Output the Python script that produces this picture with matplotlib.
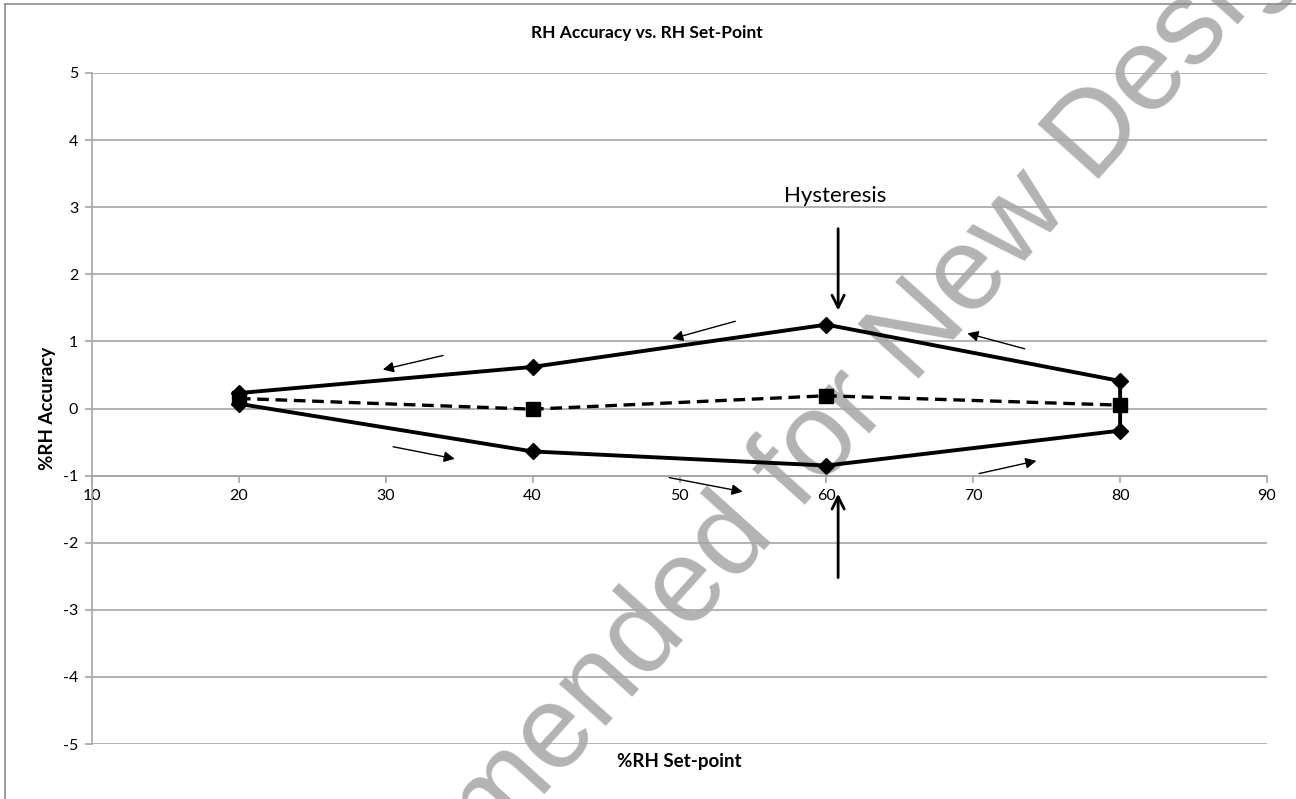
import matplotlib
matplotlib.use('Agg')
from matplotlib import pyplot as plt
from matplotlib.lines import Line2D

# values
setpoints = [20, 40, 60, 80]
rh_rising = [0.07, -0.64, -0.85, -0.33]   # going up in RH (lower branch)
rh_falling = [0.23, 0.62, 1.25, 0.41]     # coming down in RH (upper branch)
rh_mean = [0.15, -0.01, 0.19, 0.05]

y_ticks = [-5, -4, -3, -2, -1, 0, 1, 2, 3, 4, 5]
x_ticks = [10, 20, 30, 40, 50, 60, 70, 80, 90]

# small direction arrows: (x_from, y_from, x_to, y_to)
flow_arrows = [
    (33.9, 0.79, 29.8, 0.58),
    (53.8, 1.30, 49.5, 1.04),
    (73.5, 0.89, 69.6, 1.12),
    (30.5, -0.57, 34.7, -0.75),
    (49.3, -1.03, 54.3, -1.24),
    (70.4, -0.97, 74.3, -0.78),
]
hyst_x = 60.8
hyst_top = (2.68, 1.46)
hyst_bottom = (-2.52, -1.27)

plt.rcParams['font.family'] = ['Lato', 'DejaVu Sans']
plt.rcParams['axes.unicode_minus'] = False
grid_col = '#a6a6a6'

fig = plt.figure(figsize=(12.96, 7.99), dpi=100)
ax = fig.add_axes([92 / 1296, 1 - 744 / 799, (1267 - 92) / 1296, (744 - 73) / 799])
ax.patch.set_alpha(0)

# watermark, sits under everything in the axes
fig.text(715 / 1296, 1 - 560 / 799, 'Not Recommended for New Designs',
         fontsize=85, color='#b3b3b3', rotation=48, rotation_mode='anchor',
         ha='center', va='center', family='Liberation Sans', zorder=-5)

# outer frame (only left and top edges are visible in the crop)
fig.add_artist(Line2D([4.5 / 1296, 4.5 / 1296], [0, 1 - 3.5 / 799],
                      transform=fig.transFigure, color='#8c8c8c', lw=1.2))
fig.add_artist(Line2D([4.5 / 1296, 1], [1 - 3.5 / 799, 1 - 3.5 / 799],
                      transform=fig.transFigure, color='#8c8c8c', lw=1.2))

ax.set_xlim(10, 90)
ax.set_ylim(-5, 5)
ax.set_xticks(x_ticks)
ax.set_yticks(y_ticks)
ax.yaxis.grid(True, color=grid_col, lw=1.2)
ax.set_axisbelow(True)

for s in ['top', 'right']:
    ax.spines[s].set_visible(False)
ax.spines['bottom'].set_position(('data', -1))
ax.spines['bottom'].set_color(grid_col)
ax.spines['left'].set_color(grid_col)
ax.spines['bottom'].set_linewidth(1.2)
ax.spines['left'].set_linewidth(1.2)
ax.tick_params(axis='both', color=grid_col, length=5, width=1.2, labelsize=11.5, pad=5)

loop_x = setpoints + setpoints[::-1]
loop_y = rh_rising + rh_falling[::-1]
ax.plot(loop_x, loop_y, color='black', lw=2.8, marker='D', markersize=8.5, zorder=3)
ax.plot(setpoints, rh_mean, color='black', lw=2.4, ls=(0, (3.5, 2)), marker='s',
        markersize=10, zorder=3)

for x0, y0, x1, y1 in flow_arrows:
    ax.annotate('', xy=(x1, y1), xytext=(x0, y0),
                arrowprops=dict(arrowstyle='-|>', color='black', lw=1.0,
                                mutation_scale=16, shrinkA=0, shrinkB=0))

ax.annotate('', xy=(hyst_x, hyst_top[1]), xytext=(hyst_x, hyst_top[0]),
            arrowprops=dict(arrowstyle='->', color='black', lw=2.0,
                            mutation_scale=22, shrinkA=0, shrinkB=0))
ax.annotate('', xy=(hyst_x, hyst_bottom[1]), xytext=(hyst_x, hyst_bottom[0]),
            arrowprops=dict(arrowstyle='->', color='black', lw=2.0,
                            mutation_scale=22, shrinkA=0, shrinkB=0))
ax.text(60.6, 3.16, 'Hysteresis', fontsize=16, ha='center', va='center')

fig.text(647 / 1296, 1 - 33 / 799, 'RH Accuracy vs. RH Set-Point',
         fontsize=12.5, fontweight='bold', ha='center', va='center')
fig.text(679 / 1296, 1 - 762 / 799, '%RH Set-point',
         fontsize=13.5, fontweight='bold', ha='center', va='center')
fig.text(47 / 1296, 1 - 408 / 799, '%RH Accuracy', rotation=90,
         fontsize=13.5, fontweight='bold', ha='center', va='center')

fig.savefig('out.png', dpi=100)
